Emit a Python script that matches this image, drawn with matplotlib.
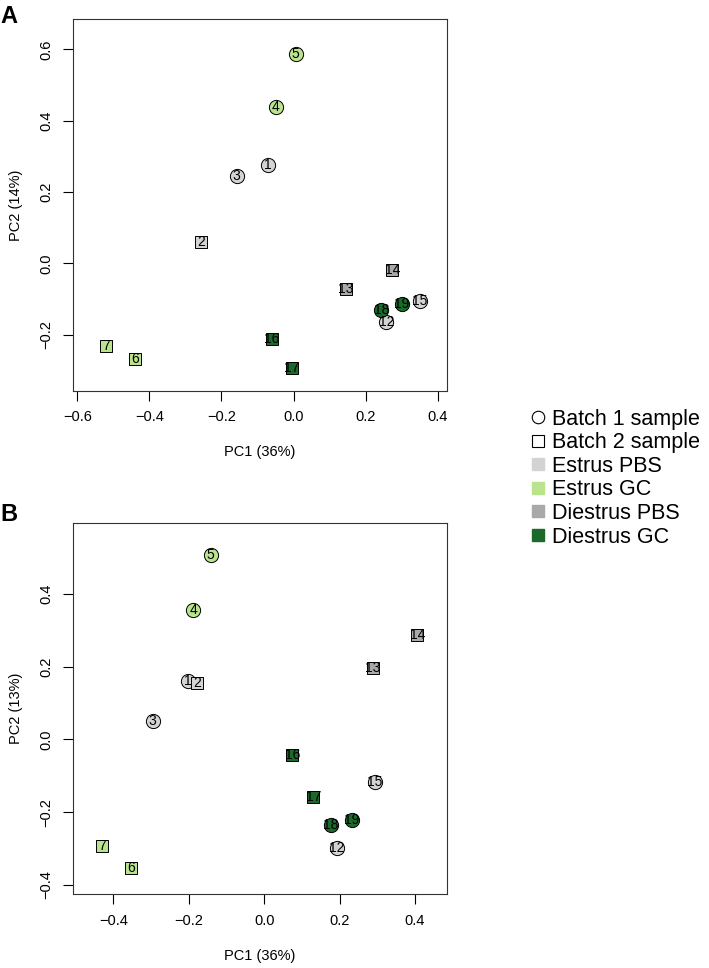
import matplotlib.pyplot as plt
from matplotlib.lines import Line2D

plt.rcParams['font.family'] = ['Liberation Sans', 'DejaVu Sans']

# sample labels, batch (1 = circle, 2 = square) and group
samples = ['1', '2', '3', '4', '5', '6', '7', '12', '13', '14', '15', '16', '17', '18', '19']
batch = [1, 2, 1, 1, 1, 2, 2, 1, 2, 2, 1, 2, 2, 1, 1]
group = ['Estrus PBS', 'Estrus PBS', 'Estrus PBS', 'Estrus GC', 'Estrus GC', 'Estrus GC', 'Estrus GC',
         'Estrus PBS', 'Diestrus PBS', 'Diestrus PBS', 'Estrus PBS', 'Diestrus GC', 'Diestrus GC',
         'Diestrus GC', 'Diestrus GC']

# panel A
pc1_a = [-0.071, -0.256, -0.158, -0.049, 0.006, -0.441, -0.521, 0.258, 0.145, 0.274, 0.350, -0.061, -0.004, 0.244, 0.300]
pc2_a = [0.276, 0.061, 0.245, 0.437, 0.586, -0.267, -0.233, -0.165, -0.073, -0.019, -0.105, -0.211, -0.293, -0.131, -0.114]

# panel B
pc1_b = [-0.202, -0.179, -0.296, -0.188, -0.142, -0.354, -0.429, 0.192, 0.288, 0.406, 0.294, 0.075, 0.130, 0.177, 0.233]
pc2_b = [0.160, 0.156, 0.051, 0.356, 0.506, -0.353, -0.292, -0.299, 0.196, 0.288, -0.117, -0.044, -0.158, -0.236, -0.222]

group_names = ['Estrus PBS', 'Estrus GC', 'Diestrus PBS', 'Diestrus GC']
group_colors = {'Estrus PBS': '#d3d3d3', 'Estrus GC': '#b9e38d',
                'Diestrus PBS': '#a9a9a9', 'Diestrus GC': '#1b6a2c'}

fig = plt.figure(figsize=(7.09, 9.68), dpi=100)
axA = fig.add_axes([0.103, 0.5964, 0.5275, 0.3836])
axB = fig.add_axes([0.103, 0.0761, 0.527, 0.3839])


def draw(ax, xs, ys, labels):
    for x, y, lab, b, g in zip(xs, ys, labels, batch, group):
        if b == 1:
            ax.scatter(x, y, s=105, marker='o', c=group_colors[g], edgecolors='black', linewidths=0.7, zorder=2)
        else:
            ax.scatter(x, y, s=85, marker='s', c=group_colors[g], edgecolors='black', linewidths=0.7, zorder=2)
        ax.text(x, y, lab, ha='center', va='center', fontsize=10, zorder=3)
    ax.tick_params(direction='out', length=7, width=0.8, labelsize=10.5, pad=7)
    for sp in ax.spines.values():
        sp.set_linewidth(0.8)
        sp.set_color('#333333')


draw(axA, pc1_a, pc2_a, samples)
axA.set_xlim(-0.612, 0.426)
axA.set_ylim(-0.357, 0.684)
axA.set_xticks([-0.6, -0.4, -0.2, 0.0, 0.2, 0.4])
axA.set_yticks([-0.2, 0.0, 0.2, 0.4, 0.6])
axA.set_xticklabels(['\u22120.6', '\u22120.4', '\u22120.2', '0.0', '0.2', '0.4'])
axA.set_yticklabels(['\u22120.2', '0.0', '0.2', '0.4', '0.6'], rotation=90, va='center')
axA.set_xlabel('PC1 (36%)', fontsize=10.5, labelpad=15)
axA.set_ylabel('PC2 (14%)', fontsize=10.5, labelpad=12)

draw(axB, pc1_b, pc2_b, samples)
axB.set_xlim(-0.507, 0.484)
axB.set_ylim(-0.426, 0.5955)
axB.set_xticks([-0.4, -0.2, 0.0, 0.2, 0.4])
axB.set_yticks([-0.4, -0.2, 0.0, 0.2, 0.4])
axB.set_xticklabels(['\u22120.4', '\u22120.2', '0.0', '0.2', '0.4'])
axB.set_yticklabels(['\u22120.4', '\u22120.2', '0.0', '0.2', '0.4'], rotation=90, va='center')
axB.set_xlabel('PC1 (36%)', fontsize=10.5, labelpad=15)
axB.set_ylabel('PC2 (13%)', fontsize=10.5, labelpad=12)

fig.text(0.0, 0.995, 'A', fontsize=17, fontweight='bold', ha='left', va='top')
fig.text(0.0, 0.480, 'B', fontsize=17, fontweight='bold', ha='left', va='top')

handles = [Line2D([], [], marker='o', ls='', markerfacecolor='white', markeredgecolor='black', markersize=9, markeredgewidth=0.8),
           Line2D([], [], marker='s', ls='', markerfacecolor='white', markeredgecolor='black', markersize=8, markeredgewidth=0.8)]
for g in group_names:
    handles.append(Line2D([], [], marker='s', ls='', markerfacecolor=group_colors[g], markeredgecolor=group_colors[g], markersize=8))
labels = ['Batch 1 sample', 'Batch 2 sample'] + group_names
fig.legend(handles, labels, loc='upper left', bbox_to_anchor=(0.735, 0.589), frameon=False,
           fontsize=15.5, handlelength=0.6, handletextpad=0.35, labelspacing=0.12, borderpad=0)

fig.savefig('out.png', dpi=100)
